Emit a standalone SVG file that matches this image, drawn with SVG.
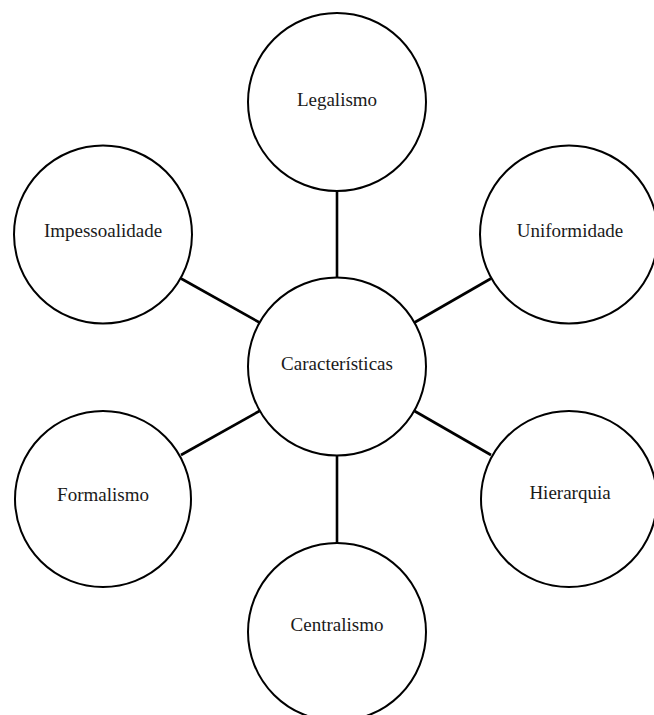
<svg xmlns="http://www.w3.org/2000/svg" width="654" height="715" viewBox="0 0 654 715">
  <style>
    .node circle { fill: #ffffff; stroke: #000000; stroke-width: 2; }
    .node text { font-family: "Liberation Serif", "Times New Roman", serif; font-size: 19px; fill: #1a1a1a; text-anchor: middle; }
    #connectors line { stroke: #000000; stroke-width: 2.6; }
  </style>
  <rect width="654" height="715" fill="#ffffff"/>
  <g id="connectors">
    <line x1="337" y1="191" x2="337" y2="277"/>
    <line x1="337" y1="456" x2="337" y2="543"/>
    <line x1="181" y1="278.5" x2="259.5" y2="322.5"/>
    <line x1="491" y1="278.5" x2="414.5" y2="322.5"/>
    <line x1="181" y1="455" x2="259.5" y2="411"/>
    <line x1="491" y1="455" x2="414.5" y2="411"/>
  </g>
  <g id="node-legalismo" class="node">
    <circle cx="337" cy="102" r="89"/>
    <text x="337" y="106">Legalismo</text>
  </g>
  <g id="node-uniformidade" class="node">
    <circle cx="569" cy="234.5" r="89"/>
    <text x="570" y="237">Uniformidade</text>
  </g>
  <g id="node-impessoalidade" class="node">
    <circle cx="103" cy="234.5" r="89"/>
    <text x="103" y="237">Impessoalidade</text>
  </g>
  <g id="node-caracteristicas" class="node">
    <circle cx="337" cy="366.5" r="89"/>
    <text x="337" y="370">Características</text>
  </g>
  <g id="node-formalismo" class="node">
    <circle cx="103" cy="499" r="88"/>
    <text x="103" y="501">Formalismo</text>
  </g>
  <g id="node-hierarquia" class="node">
    <circle cx="569" cy="499" r="88"/>
    <text x="570" y="499">Hierarquia</text>
  </g>
  <g id="node-centralismo" class="node">
    <circle cx="337" cy="632" r="89"/>
    <text x="337" y="631">Centralismo</text>
  </g>
</svg>
